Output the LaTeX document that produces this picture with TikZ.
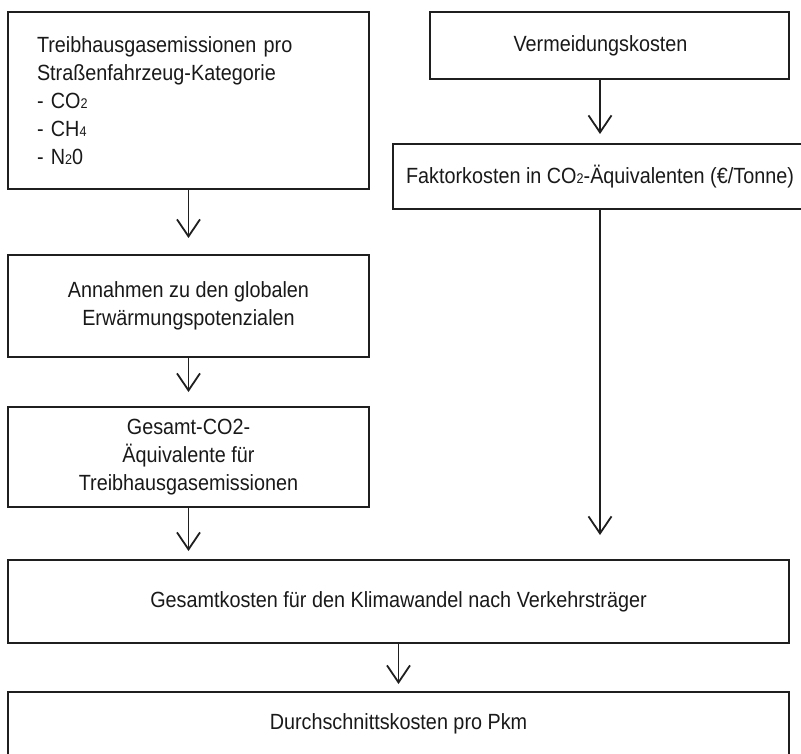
\documentclass[tikz,border=0pt]{standalone}
\usepackage{fontspec}
\setmainfont{Liberation Sans}[FakeStretch=0.9]
\usepackage{tikz}
\usetikzlibrary{arrows.meta}

\newcommand\chemsub[1]{\raisebox{-0.5pt}{\fontsize{14}{14}\selectfont #1}}

\begin{document}
\begin{tikzpicture}[
  x=1pt, y=-1pt,
  box/.style={rectangle, draw=black!88, line width=2pt, align=center, minimum width=361pt, font=\fontsize{22}{28}\selectfont, text=black!90},
  wide/.style={box, minimum width=781pt},
  arr/.style={-{Straight Barb[length=17pt,width=23pt]}, line width=1.8pt, draw=black!88}
]
\useasboundingbox (0,0) rectangle (801,754);

% left column
\node[box, minimum height=177pt, text width=303pt, align=left] (treib) at (188.5,100.5)
  {Treibhausgasemissionen pro\\Straßenfahrzeug-Kategorie\\- CO\chemsub{2}\\- CH\chemsub{4}\\- N\chemsub{2}0};
\node[box, minimum height=102pt] (annahmen) at (188.5,306) {Annahmen zu den globalen\\Erwärmungspotenzialen};
\node[box, minimum height=100pt] (gesamtco) at (188.5,457) {Gesamt-CO2-\\Äquivalente für\\Treibhausgasemissionen};

% right column
\node[box, minimum width=359pt, minimum height=67pt] (vermeid) at (609.5,45.5) {\hspace*{-18pt}Vermeidungskosten};
\node[box, minimum width=414pt, minimum height=65pt] (faktor) at (600,176.5) {Faktorkosten in CO\chemsub{2}-Äquivalenten (€/Tonne)};

% bottom
\node[wide, minimum height=83pt] (kosten) at (398.5,601.5) {Gesamtkosten für den Klimawandel nach Verkehrsträger};
\node[wide, minimum height=64pt] (schnitt) at (398.5,724) {Durchschnittskosten pro Pkm};

\draw[arr, shorten >=16pt] (treib) -- (annahmen);
\draw[arr, shorten >=14pt] (annahmen) -- (gesamtco);
\draw[arr, shorten >=8pt] (gesamtco) -- (gesamtco.south |- kosten.north);
\draw[arr, shorten >=9pt] (faktor.north |- vermeid.south) -- (faktor.north);
\draw[arr, shorten >=24pt] (faktor.south) -- (faktor.south |- kosten.north);
\draw[arr, shorten >=7pt] (kosten) -- (schnitt);
\end{tikzpicture}
\end{document}
